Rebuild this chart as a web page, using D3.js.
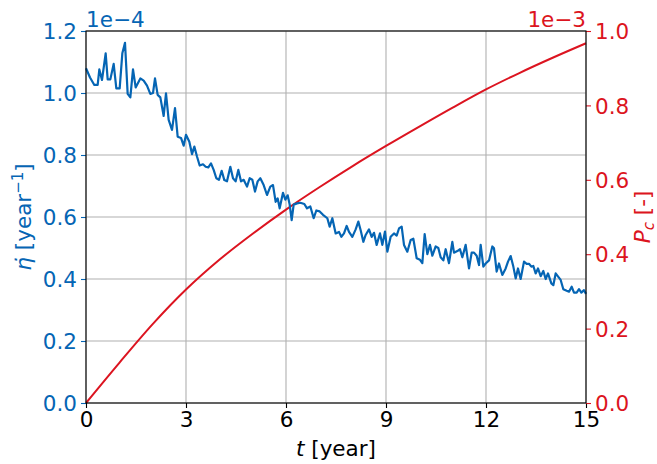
<!DOCTYPE html>
<html>
<head>
<meta charset="utf-8">
<script src="https://cdn.jsdelivr.net/npm/d3@7"></script>
<style>
  body { margin: 0; background: #fff; }
  svg { font-family: "DejaVu Sans", sans-serif; }
</style>
</head>
<body>
<div id="chart"></div>
<script>
// time axis ticks
const xTicks = [0, 3, 6, 9, 12, 15];
const leftTicks = [0, 0.2, 0.4, 0.6, 0.8, 1.0, 1.2];
const rightTicks = [0, 0.2, 0.4, 0.6, 0.8, 1.0];

// eta-dot series (x1e-4 per year)
const etaT = [0.00,0.12,0.25,0.35,0.40,0.48,0.59,0.65,0.73,0.83,0.91,1.01,1.09,1.17,1.25,1.33,1.41,1.49,1.63,1.73,1.83,1.93,2.01,2.07,2.15,2.23,2.33,2.40,2.48,2.58,2.67,2.75,2.85,2.93,3.00,3.10,3.18,3.25,3.33,3.41,3.51,3.59,3.67,3.75,3.83,3.91,3.99,4.07,4.15,4.23,4.33,4.41,4.49,4.57,4.65,4.73,4.83,4.91,4.99,5.07,5.15,5.23,5.33,5.43,5.53,5.61,5.69,5.75,5.81,5.91,5.98,6.05,6.11,6.17,6.23,6.33,6.43,6.55,6.63,6.73,6.83,6.91,7.01,7.11,7.24,7.31,7.39,7.49,7.59,7.66,7.74,7.82,7.89,7.99,8.09,8.17,8.24,8.32,8.39,8.49,8.57,8.64,8.72,8.82,8.89,8.97,9.04,9.14,9.24,9.32,9.39,9.47,9.54,9.64,9.74,9.82,9.92,10.02,10.09,10.16,10.24,10.32,10.39,10.49,10.57,10.64,10.72,10.79,10.89,10.99,11.04,11.14,11.22,11.29,11.39,11.49,11.57,11.64,11.72,11.79,11.84,11.92,11.99,12.09,12.19,12.24,12.32,12.39,12.49,12.59,12.66,12.74,12.82,12.89,12.96,13.04,13.14,13.22,13.29,13.36,13.42,13.49,13.56,13.64,13.72,13.79,13.86,13.96,14.02,14.09,14.17,14.24,14.32,14.42,14.49,14.57,14.64,14.72,14.79,14.86,14.94,15.00];
const etaRate = [1.08,1.05,1.026,1.026,1.076,1.042,1.128,1.044,1.044,1.094,1.015,1.015,1.128,1.162,0.997,0.986,1.076,1.018,1.047,1.04,1.024,0.997,1.0,1.047,0.994,0.986,0.926,0.999,0.913,0.881,0.951,0.859,0.855,0.83,0.865,0.843,0.803,0.827,0.795,0.766,0.77,0.762,0.76,0.773,0.752,0.725,0.72,0.749,0.719,0.715,0.762,0.725,0.715,0.752,0.715,0.72,0.698,0.725,0.72,0.682,0.715,0.725,0.703,0.671,0.698,0.703,0.649,0.66,0.628,0.678,0.656,0.67,0.64,0.59,0.64,0.644,0.646,0.642,0.628,0.634,0.596,0.621,0.618,0.607,0.596,0.569,0.596,0.547,0.552,0.536,0.547,0.571,0.552,0.536,0.56,0.585,0.557,0.52,0.542,0.56,0.536,0.549,0.51,0.547,0.51,0.553,0.488,0.536,0.547,0.54,0.563,0.569,0.51,0.488,0.526,0.53,0.467,0.462,0.451,0.545,0.48,0.51,0.475,0.505,0.5,0.47,0.46,0.496,0.451,0.52,0.485,0.49,0.496,0.47,0.51,0.434,0.485,0.485,0.475,0.445,0.51,0.44,0.45,0.46,0.505,0.499,0.424,0.45,0.413,0.434,0.456,0.474,0.44,0.402,0.434,0.4,0.456,0.449,0.449,0.44,0.442,0.418,0.434,0.409,0.426,0.4,0.418,0.386,0.38,0.418,0.407,0.397,0.367,0.362,0.359,0.375,0.356,0.356,0.367,0.356,0.364,0.352];

// P_c series (x1e-3)
const pcT = [0, 1, 2, 3, 4, 5, 6, 7, 8, 9, 10, 11, 12, 13, 14, 15];
const pcVal = [0, 0.108, 0.212, 0.305, 0.385, 0.455, 0.52, 0.58, 0.637, 0.691, 0.743, 0.794, 0.843, 0.887, 0.928, 0.967];

const blue = "#0565b4";
const red = "#dc1420";
const fs = 21.5;

const width = 657, height = 464;
const m = {left: 86, right: 71, top: 31, bottom: 61};
const iw = width - m.left - m.right, ih = height - m.top - m.bottom;

const x = d3.scaleLinear().domain([0, 15]).range([0, iw]);
const yL = d3.scaleLinear().domain([0, 1.2]).range([ih, 0]);
const yR = d3.scaleLinear().domain([0, 1.0]).range([ih, 0]);

const svg = d3.select("#chart").append("svg")
    .attr("width", width)
    .attr("height", height);

const g = svg.append("g").attr("transform", `translate(${m.left},${m.top})`);

// grid
g.append("g").selectAll("line").data(xTicks).join("line")
    .attr("x1", d => x(d)).attr("x2", d => x(d))
    .attr("y1", 0).attr("y2", ih)
    .attr("stroke", "#b0b0b0").attr("stroke-width", 1.1);
g.append("g").selectAll("line").data(leftTicks).join("line")
    .attr("x1", 0).attr("x2", iw)
    .attr("y1", d => yL(d)).attr("y2", d => yL(d))
    .attr("stroke", "#b0b0b0").attr("stroke-width", 1.1);

// lines
const etaData = etaT.map((t, i) => [t, etaRate[i]]);
const pcData = pcT.map((t, i) => [t, pcVal[i]]);

g.append("path")
    .datum(pcData)
    .attr("fill", "none")
    .attr("stroke", red)
    .attr("stroke-width", 2)
    .attr("d", d3.line().x(d => x(d[0])).y(d => yR(d[1])).curve(d3.curveMonotoneX));

g.append("path")
    .datum(etaData)
    .attr("fill", "none")
    .attr("stroke", blue)
    .attr("stroke-width", 2.2)
    .attr("stroke-linejoin", "round")
    .attr("d", d3.line().x(d => x(d[0])).y(d => yL(d[1])));

// axes
const fmt = d3.format(".1f");
const xAxis = g.append("g").attr("transform", `translate(0,${ih})`)
    .call(d3.axisBottom(x).tickValues(xTicks).tickSize(5).tickPadding(4).tickFormat(d3.format("d")));
const lAxis = g.append("g")
    .call(d3.axisLeft(yL).tickValues(leftTicks).tickSize(5).tickPadding(4).tickFormat(fmt));
const rAxis = g.append("g").attr("transform", `translate(${iw},0)`)
    .call(d3.axisRight(yR).tickValues(rightTicks).tickSize(5).tickPadding(4).tickFormat(fmt));

[xAxis, lAxis, rAxis].forEach(a => {
    a.select(".domain").remove();
    a.selectAll("text").attr("font-size", fs).attr("font-family", "DejaVu Sans");
});
xAxis.selectAll("line").attr("stroke", "#000").attr("stroke-width", 1.1);
xAxis.selectAll("text").attr("fill", "#000");
lAxis.selectAll("line").attr("stroke", blue).attr("stroke-width", 1.1);
lAxis.selectAll("text").attr("fill", blue).attr("dy", "0.36em");
rAxis.selectAll("line").attr("stroke", red).attr("stroke-width", 1.1);
rAxis.selectAll("text").attr("fill", red).attr("dy", "0.36em");

// frame
g.append("rect")
    .attr("width", iw).attr("height", ih)
    .attr("fill", "none").attr("stroke", "#000").attr("stroke-width", 1.1);

// offset labels
svg.append("text")
    .attr("x", m.left).attr("y", 27)
    .attr("font-size", fs).attr("fill", blue)
    .text("1e\u22124");
svg.append("text")
    .attr("x", m.left + iw).attr("y", 27)
    .attr("text-anchor", "end")
    .attr("font-size", fs).attr("fill", red)
    .text("1e\u22123");

// x label
const xl = svg.append("text")
    .attr("x", m.left + iw / 2).attr("y", 456)
    .attr("text-anchor", "middle")
    .attr("font-size", fs).attr("fill", "#000");
xl.append("tspan").attr("font-style", "italic").text("t");
xl.append("tspan").text(" [year]");

// left y label
const ylab = svg.append("text")
    .attr("transform", `translate(31,${m.top + ih / 2}) rotate(-90)`)
    .attr("text-anchor", "middle")
    .attr("font-size", fs).attr("fill", blue);
ylab.append("tspan").attr("font-style", "italic").text("\u03B7\u0307");
ylab.append("tspan").text(" [year");
ylab.append("tspan").attr("font-size", 15).attr("dy", -8).text("\u22121");
ylab.append("tspan").attr("dy", 8).text("]");

// right y label
const rlab = svg.append("text")
    .attr("transform", `translate(650,${m.top + ih / 2}) rotate(-90)`)
    .attr("text-anchor", "middle")
    .attr("font-size", fs).attr("fill", red);
rlab.append("tspan").attr("font-style", "italic").text("P");
rlab.append("tspan").attr("font-style", "italic").attr("font-size", 15).attr("dy", 4).text("c");
rlab.append("tspan").attr("dy", -4).text(" [-]");
</script>
</body>
</html>
